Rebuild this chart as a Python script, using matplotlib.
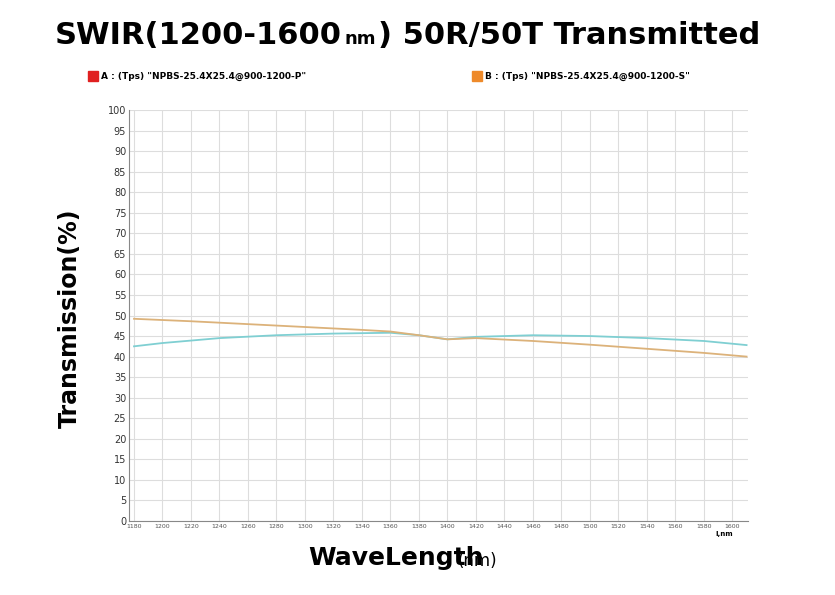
import matplotlib
matplotlib.use("Agg")
import matplotlib.pyplot as plt
from matplotlib.patches import Rectangle

wl_a = [1180, 1200, 1240, 1280, 1320, 1360, 1380, 1400, 1420, 1460, 1500, 1540, 1580, 1610]
t_a = [42.5, 43.3, 44.5, 45.2, 45.6, 45.8, 45.2, 44.2, 44.8, 45.2, 45.0, 44.5, 43.8, 42.8]
wl_b = [1180, 1220, 1260, 1300, 1340, 1360, 1380, 1400, 1420, 1460, 1500, 1540, 1580, 1610]
t_b = [49.2, 48.6, 47.9, 47.2, 46.5, 46.1, 45.2, 44.2, 44.5, 43.8, 42.9, 41.9, 40.9, 40.0]
xticks = list(range(1180, 1601, 20))
yticks = list(range(0, 101, 5))
label_a = 'A : (Tps) "NPBS-25.4X25.4@900-1200-P"'
label_b = 'B : (Tps) "NPBS-25.4X25.4@900-1200-S"'

W, H = 835, 595
fig = plt.figure(figsize=(W/100, H/100), dpi=100)
ax = fig.add_axes([129/W, 1-521/H, (748-129)/W, (521-110)/H])
ax.plot(wl_a, t_a, color="#7fcfd2", lw=1.3)
ax.plot(wl_b, t_b, color="#dcb27a", lw=1.3)
ax.set_xlim(1176.5, 1611)
ax.set_ylim(0, 100)
ax.set_xticks(xticks)
ax.set_xticklabels([str(v) for v in xticks], fontsize=4.5, color="#555")
ax.set_yticks(yticks)
ax.set_yticklabels([str(v) for v in yticks], fontsize=7, color="#333")
ax.grid(True, color="#dddddd", lw=0.8)
for s in ["top", "right"]:
    ax.spines[s].set_visible(False)
for s in ["left", "bottom"]:
    ax.spines[s].set_color("#888")
ax.tick_params(length=0, pad=2)
fig.text(724/W, 1-536/H, "l,nm", fontsize=5, weight="bold", ha="center")

fig.text(308/W, 1-558/H, "WaveLength", fontsize=18, fontfamily="DejaVu Sans", weight="bold", ha="left", va="center")
fig.text(497/W, 1-561/H, "(nm)", fontsize=12, fontfamily="DejaVu Sans", ha="right", va="center")
fig.text(70/W, 1-318/H, "Transmission(%)", fontsize=17, fontfamily="DejaVu Sans", weight="bold", rotation=90, ha="center", va="center")

# title
fig.canvas.draw()
r = fig.canvas.get_renderer()
x = 55
for txt, fs, dy in [("SWIR(1200-1600", 22, 0), ("nm", 13, 4), (") 50R/50T Transmitted", 22, 0)]:
    t = fig.text(x/W, 1-(35+dy)/H, txt, fontsize=fs, weight="bold", fontfamily="DejaVu Sans", va="center", ha="left")
    bb = t.get_window_extent(r)
    x += bb.width + 2

fig.patches.append(Rectangle((88/W, 1-81/H), 10/W, 10/H, color="#e02020", transform=fig.transFigure))
fig.text(101/W, 1-76/H, label_a, fontsize=6.5, weight="bold", va="center")
fig.patches.append(Rectangle((472/W, 1-81/H), 10/W, 10/H, color="#ee8a2a", transform=fig.transFigure))
fig.text(485/W, 1-76/H, label_b, fontsize=6.5, weight="bold", va="center")

fig.savefig("out.png", dpi=100)
